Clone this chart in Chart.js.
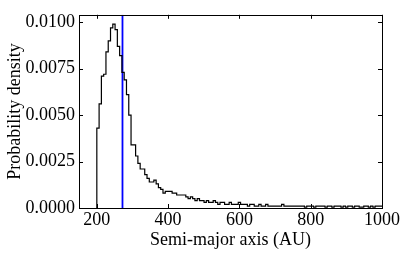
<!DOCTYPE html>
<html lang="en">
<head>
    <meta charset="UTF-8">
    <title>Semi-major axis distribution</title>
    <script src="https://cdn.jsdelivr.net/npm/chart.js"></script>
    <style>
        body { margin: 0; background: #fff; }
    </style>
</head>
<body>
<canvas id="histChart" width="407" height="254"></canvas>

<script>
    // histogram: first bin edge, bin width (AU) and density per bin
    const binStart = 200;
    const binWidth = 6.4;
    const density = [
        0.0020, 0.0043, 0.0056, 0.0071, 0.0072, 0.0084, 0.0090, 0.0097, 0.0099, 0.0096,
        0.0087, 0.0082, 0.0073, 0.0069, 0.0061, 0.0050, 0.0034, 0.0034, 0.0028, 0.0024,
        0.0021, 0.0021, 0.0018, 0.0016, 0.0014, 0.0014, 0.0015, 0.0013, 0.0011, 0.0010,
        0.0008, 0.0009, 0.0009, 0.0009, 0.0008, 0.0008, 0.0007, 0.0007, 0.0007, 0.0007,
        0.0006, 0.0005, 0.0006, 0.0005, 0.0004, 0.0005, 0.0004, 0.0004, 0.0003, 0.0004,
        0.0003, 0.0003, 0.0004, 0.0003, 0.0002, 0.0003, 0.0003, 0.0002, 0.0002, 0.0003,
        0.0002, 0.0002, 0.0002, 0.0003, 0.0002, 0.0002, 0.0002, 0.0001, 0.0002, 0.0002,
        0.0001, 0.0001, 0.0002, 0.0001, 0.0001, 0.0002, 0.0001, 0.0001, 0.0001, 0.0001,
        0.0001, 0.0001, 0.0002, 0.0001, 0.0001, 0.0001, 0.0001, 0.0001, 0.0001, 0.0001,
        0.0001, 0.0001, 0.00005, 0.0001, 0.0001, 0.0001, 0.00005, 0.0001, 0.0001, 0.0001,
        0.0001, 0.00005, 0.0001, 0.0001, 0.00005, 0.0001, 0.0001, 0.0001, 0.00005, 0.0001,
        0.00005, 0.0001, 0.0001, 0.00005, 0.0001, 0.0001, 0.00005, 0.00005, 0.0001, 0.0001,
        0.00005, 0.0001, 0.00005, 0.0001, 0.0001, 0.0001
    ];
    // vertical marker (blue line)
    const markerA = 272;

    const xMin = 150, xMax = 1000, xStep = 200;
    const yMin = 0, yMax = 0.0104, yStep = 0.0025;

    // step points: one per bin edge, last edge repeats last value
    const histPoints = [{x: binStart, y: 0}];
    density.forEach((v, i) => histPoints.push({x: binStart + i * binWidth, y: v}));
    histPoints.push({x: binStart + density.length * binWidth, y: density[density.length - 1]});

    // matplotlib-like frame with inward ticks on all four sides
    const frameTicks = {
        id: 'frameTicks',
        afterDatasetsDraw(chart) {
            const {ctx, chartArea: a, scales: {x, y}} = chart;
            ctx.save();
            ctx.strokeStyle = '#000';
            ctx.lineWidth = 1;
            ctx.beginPath();
            x.ticks.forEach(t => {
                const px = Math.round(x.getPixelForValue(t.value)) + 0.5;
                ctx.moveTo(px, a.bottom); ctx.lineTo(px, a.bottom - 4);
                ctx.moveTo(px, a.top); ctx.lineTo(px, a.top + 4);
            });
            y.ticks.forEach(t => {
                const py = Math.round(y.getPixelForValue(t.value)) + 0.5;
                ctx.moveTo(a.left, py); ctx.lineTo(a.left + 4, py);
                ctx.moveTo(a.right, py); ctx.lineTo(a.right - 4, py);
            });
            ctx.stroke();
            ctx.strokeRect(Math.round(a.left) + 0.5, Math.round(a.top) + 0.5,
                Math.round(a.right - a.left), Math.round(a.bottom - a.top));
            ctx.restore();
        }
    };

    Chart.defaults.font.family = "'Liberation Serif', 'Times New Roman', serif";
    Chart.defaults.font.size = 18;
    Chart.defaults.color = '#000';

    const ctx = document.getElementById('histChart').getContext('2d');
    new Chart(ctx, {
        type: 'line',
        data: {
            datasets: [{
                label: 'Histogram',
                data: histPoints,
                borderColor: '#000',
                borderWidth: 1.2,
                stepped: 'after',
                pointRadius: 0,
                fill: false
            }, {
                label: 'Marker',
                data: [{x: markerA, y: yMin}, {x: markerA, y: yMax}],
                borderColor: '#0000ff',
                borderWidth: 1.8,
                pointRadius: 0,
                fill: false
            }]
        },
        options: {
            responsive: false,
            animation: false,
            layout: {padding: {top: 6, right: 25, left: 0, bottom: 0}},
            plugins: {
                legend: {display: false},
                tooltip: {enabled: false}
            },
            scales: {
                x: {
                    type: 'linear',
                    min: xMin,
                    max: xMax,
                    grid: {display: false, drawTicks: false},
                    border: {display: false},
                    ticks: {
                        stepSize: xStep,
                        includeBounds: false,
                        autoSkip: false,
                        maxRotation: 0,
                        padding: 1,
                        callback: v => String(v)
                    },
                    title: {display: true, text: 'Semi-major axis (AU)', padding: {top: 0, bottom: 3}},
                    afterFit: s => { s.height = 46; }
                },
                y: {
                    min: yMin,
                    max: yMax,
                    grid: {display: false, drawTicks: false},
                    border: {display: false},
                    ticks: {
                        stepSize: yStep,
                        includeBounds: false,
                        padding: 4,
                        callback: v => v.toFixed(4)
                    },
                    title: {display: true, text: 'Probability density', padding: {top: 4, bottom: 0}},
                    afterFit: s => { s.width = 79; }
                }
            }
        },
        plugins: [frameTicks]
    });
</script>
</body>
</html>
